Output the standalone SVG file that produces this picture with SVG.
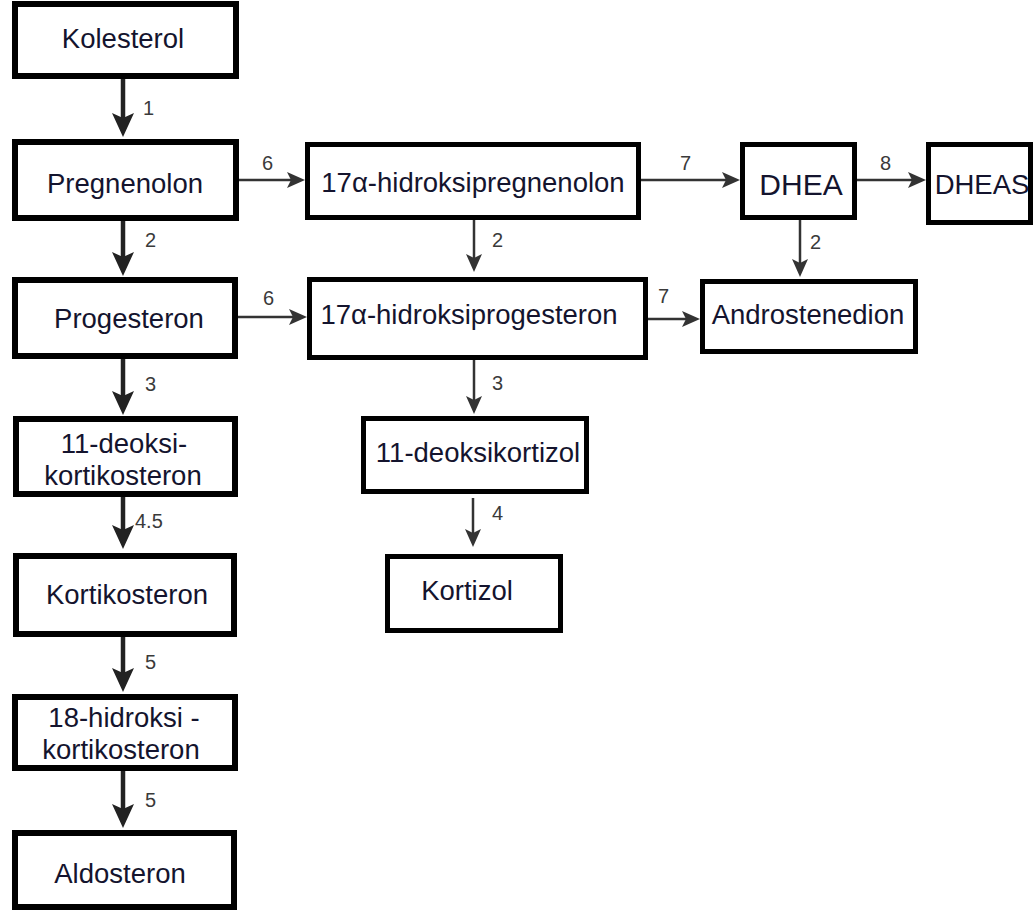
<svg xmlns="http://www.w3.org/2000/svg" width="1034" height="911" viewBox="0 0 1034 911">
<style>
  .box { fill: #ffffff; stroke: #000000; stroke-width: 6; }
  .box2 { fill: #ffffff; stroke: #000000; stroke-width: 5; }
  .t { font-family: "Liberation Sans", Arial, sans-serif; font-size: 27.5px; fill: #14142e; text-anchor: middle; }
  .n { font-family: "Liberation Sans", Arial, sans-serif; font-size: 20px; fill: #3a3a3a; }
  .thick { stroke: #222222; stroke-width: 4.5; fill: none; marker-end: url(#hd1); }
  .thin { stroke: #333333; stroke-width: 2.5; fill: none; marker-end: url(#hd2); }
</style>
<defs>
  <marker id="hd1" markerUnits="userSpaceOnUse" markerWidth="24" markerHeight="22" viewBox="0 0 24 22" refX="10" refY="11" orient="auto">
    <path d="M0,0 L24,11 L0,22 L5,11 z" fill="#222222"/>
  </marker>
  <marker id="hd2" markerUnits="userSpaceOnUse" markerWidth="18" markerHeight="16" viewBox="0 0 18 16" refX="6" refY="8" orient="auto">
    <path d="M0,0 L18,8 L0,16 L4,8 z" fill="#333333"/>
  </marker>
</defs>
<rect width="1034" height="911" fill="#ffffff"/>

<g id="connectors">
  <line class="thick" x1="123" y1="79" x2="123" y2="123"/>
  <line class="thick" x1="123" y1="221" x2="123" y2="262"/>
  <line class="thick" x1="123" y1="359" x2="123" y2="401"/>
  <line class="thick" x1="123" y1="497" x2="123" y2="535"/>
  <line class="thick" x1="123" y1="637" x2="123" y2="678"/>
  <line class="thick" x1="123" y1="771" x2="123" y2="814"/>
  <line class="thin" x1="239" y1="180" x2="293" y2="180"/>
  <line class="thin" x1="237" y1="317" x2="295" y2="317"/>
  <line class="thin" x1="474" y1="220" x2="474" y2="260"/>
  <line class="thin" x1="474" y1="360" x2="474" y2="402"/>
  <line class="thin" x1="473" y1="498" x2="473" y2="535"/>
  <line class="thin" x1="641" y1="180" x2="728" y2="180"/>
  <line class="thin" x1="857" y1="180" x2="914" y2="180"/>
  <line class="thin" x1="800" y1="220" x2="800" y2="265"/>
  <line class="thin" x1="648" y1="319" x2="688" y2="319"/>
  <text class="n" x="143" y="115">1</text>
  <text class="n" x="145" y="247">2</text>
  <text class="n" x="145" y="391">3</text>
  <text class="n" x="135" y="528">4.5</text>
  <text class="n" x="145" y="669">5</text>
  <text class="n" x="145" y="807">5</text>
  <text class="n" x="262" y="170">6</text>
  <text class="n" x="263" y="305">6</text>
  <text class="n" x="492" y="247">2</text>
  <text class="n" x="492" y="390">3</text>
  <text class="n" x="492" y="520">4</text>
  <text class="n" x="680" y="170">7</text>
  <text class="n" x="880" y="170">8</text>
  <text class="n" x="810" y="249">2</text>
  <text class="n" x="658" y="303">7</text>
</g>

<g id="kolesterol">
  <rect class="box" x="15" y="4" width="221" height="72"/>
  <text class="t" x="123" y="48">Kolesterol</text>
</g>
<g id="pregnenolon">
  <rect class="box" x="15" y="142" width="221" height="76"/>
  <text class="t" x="125" y="193">Pregnenolon</text>
</g>
<g id="progesteron">
  <rect class="box" x="15" y="280" width="220" height="76"/>
  <text class="t" x="129" y="328">Progesteron</text>
</g>
<g id="deoksikortikosteron">
  <rect class="box" x="16" y="419" width="219" height="75"/>
  <text class="t" x="124" y="453">11-deoksi-</text>
  <text class="t" x="123" y="485">kortikosteron</text>
</g>
<g id="kortikosteron">
  <rect class="box" x="16" y="556" width="218" height="78"/>
  <text class="t" x="127" y="604">Kortikosteron</text>
</g>
<g id="hidroksikortikosteron">
  <rect class="box" x="15" y="697" width="220" height="71"/>
  <text class="t" x="124" y="727">18-hidroksi -</text>
  <text class="t" x="121" y="759">kortikosteron</text>
</g>
<g id="aldosteron">
  <rect class="box" x="15" y="833" width="219" height="74"/>
  <text class="t" x="120" y="883">Aldosteron</text>
</g>
<g id="hidroksipregnenolon">
  <rect class="box2" x="307.5" y="144.5" width="331" height="73"/>
  <text class="t" x="473" y="192">17α-hidroksipregnenolon</text>
</g>
<g id="hidroksiprogesteron">
  <rect class="box2" x="309.5" y="279.5" width="336" height="78"/>
  <text class="t" x="469" y="324">17α-hidroksiprogesteron</text>
</g>
<g id="dhea">
  <rect class="box2" x="742.5" y="144.5" width="112" height="73"/>
  <text class="t" x="801" y="195" style="font-size:30px">DHEA</text>
</g>
<g id="dheas">
  <rect class="box2" x="928.5" y="144.5" width="102" height="78"/>
  <text class="t" x="982" y="194">DHEAS</text>
</g>
<g id="androstenedion">
  <rect class="box2" x="702.5" y="281.5" width="213" height="70"/>
  <text class="t" x="808" y="324">Androstenedion</text>
</g>
<g id="deoksikortizol">
  <rect class="box2" x="363.5" y="418.5" width="223" height="73"/>
  <text class="t" x="478" y="462">11-deoksikortizol</text>
</g>
<g id="kortizol">
  <rect class="box2" x="387.5" y="556.5" width="173" height="74"/>
  <text class="t" x="467" y="600">Kortizol</text>
</g>
</svg>
